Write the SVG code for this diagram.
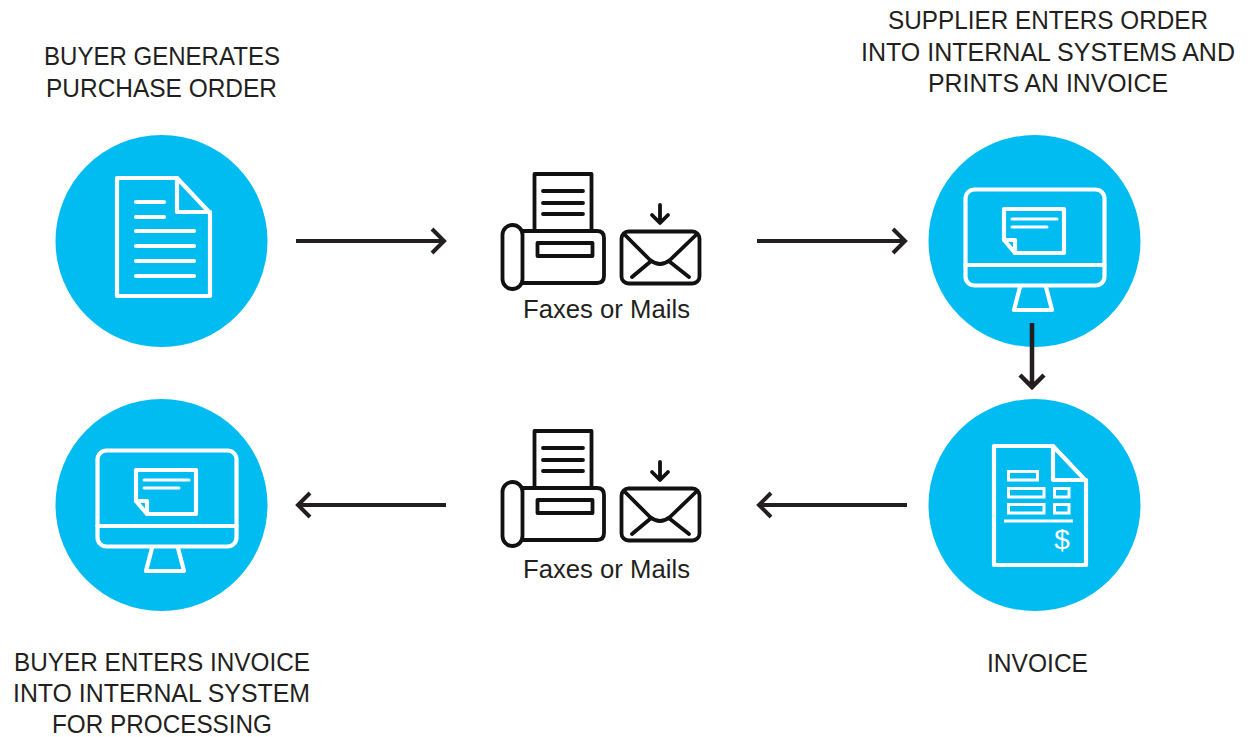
<svg xmlns="http://www.w3.org/2000/svg" xmlns:xlink="http://www.w3.org/1999/xlink" width="1258" height="737" viewBox="0 0 1258 737">
<style>
text{font-family:"Liberation Sans",Arial,sans-serif;font-size:25px;fill:#231f20;text-anchor:middle}
.c{fill:#00bcf1}
.w{fill:none;stroke:#fff;stroke-width:4.200;stroke-linejoin:round;stroke-linecap:round}
.w3{fill:none;stroke:#fff;stroke-width:3;stroke-linejoin:miter}
.k{fill:none;stroke:#111;stroke-width:3.800;stroke-linejoin:round;stroke-linecap:round}
.a{fill:none;stroke:#231f20;stroke-width:4}
</style>
<defs>
<g id="fax">
<path class="k" d="M534.500 231V174H591.500V231"/>
<path class="k" d="M543 191H583M543 203H583M543 214H583"/>
<path class="k" d="M522 231H597Q604 231 604 238V276Q604 283 597 283H522"/>
<rect class="k" x="502.500" y="225" width="20" height="64" rx="10"/>
<rect class="k" x="537.500" y="243" width="55" height="13"/>
<rect class="k" x="621.500" y="231.500" width="78" height="52" rx="7"/>
<path class="k" d="M624 234L650 260Q660 268 670 260L697 234M632 277L650 262M689 277L670 262"/>
<path class="k" d="M660 205V222M652 215L660 223L668 215"/>
</g>
<g id="monitor">
<rect class="w" x="965.500" y="189.500" width="139" height="96" rx="9"/>
<path class="w" d="M965.500 265H1104.500M1020 287L1014 310H1052L1046 287"/>
<path class="w" d="M1004 209H1064V253H1015L1004 240Z"/>
<path class="w" d="M1004 240H1015V253"/>
<path class="w" style="stroke-width:3" d="M1012 219H1057M1012 227H1047"/>
</g>
</defs>
<g id="buyer-generates">
<circle class="c" cx="161.500" cy="241" r="106"/>
<path class="w" d="M117 178H177L210 213V296H117Z"/>
<path class="w" d="M177 178V212H210"/>
<path class="w" d="M136 202H164M136 217H164M136 231H194M136 246H194M136 261H194M136 276H194"/>
<text x="162" y="65" textLength="236" lengthAdjust="spacingAndGlyphs">BUYER GENERATES</text>
<text x="161.500" y="97" textLength="231" lengthAdjust="spacingAndGlyphs">PURCHASE ORDER</text>
</g>
<g id="fax-top">
<use href="#fax"/>
<text x="606.500" y="318" textLength="167" lengthAdjust="spacingAndGlyphs">Faxes or Mails</text>
</g>
<g id="supplier">
<circle class="c" cx="1034.500" cy="241" r="106"/>
<use href="#monitor"/>
<text x="1048" y="29" textLength="320" lengthAdjust="spacingAndGlyphs">SUPPLIER ENTERS ORDER</text>
<text x="1048" y="61" textLength="374" lengthAdjust="spacingAndGlyphs">INTO INTERNAL SYSTEMS AND</text>
<text x="1048" y="92" textLength="240" lengthAdjust="spacingAndGlyphs">PRINTS AN INVOICE</text>
</g>
<g id="invoice">
<circle class="c" cx="1034.500" cy="505" r="106"/>
<path class="w" d="M994 446H1053L1086 481V565H994Z"/>
<path class="w" d="M1053 446V480H1086"/>
<path class="w3" d="M1008.500 471.500H1037.500V480H1008.500ZM1008.500 488.500H1044V497H1008.500ZM1054.500 488.500H1069V497H1054.500ZM1008.500 504.500H1044V513H1008.500ZM1054.500 504.500H1069V513H1054.500ZM1004 521H1073"/>
<text x="1062" y="549" style="fill:#fff;font-size:28px">$</text>
<text x="1037.500" y="672" textLength="101" lengthAdjust="spacingAndGlyphs">INVOICE</text>
</g>
<g id="fax-bottom">
<use href="#fax" y="257"/>
<text x="606.500" y="578" textLength="167" lengthAdjust="spacingAndGlyphs">Faxes or Mails</text>
</g>
<g id="buyer-enters">
<circle class="c" cx="161.500" cy="505" r="106"/>
<use href="#monitor" x="-868" y="261"/>
<text x="162" y="671" textLength="296" lengthAdjust="spacingAndGlyphs">BUYER ENTERS INVOICE</text>
<text x="161.500" y="702" textLength="297" lengthAdjust="spacingAndGlyphs">INTO INTERNAL SYSTEM</text>
<text x="162" y="733" textLength="220" lengthAdjust="spacingAndGlyphs">FOR PROCESSING</text>
</g>
<g id="connectors">
<path class="a" d="M296 241H444M432 229L444 241L432 253"/>
<path class="a" d="M757 241H905M893 229L905 241L893 253"/>
<path class="a" style="stroke-width:4.500" d="M1032 323V386M1020 375L1032 387L1044 375"/>
<path class="a" d="M907 505H759M771 493L759 505L771 517"/>
<path class="a" d="M446 505H298M310 493L298 505L310 517"/>
</g>
</svg>
